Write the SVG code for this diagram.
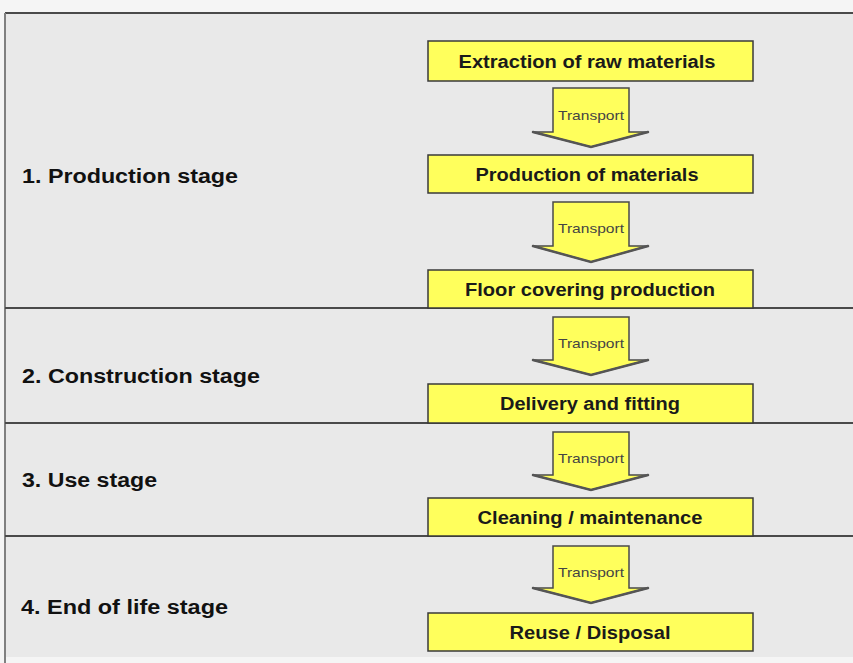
<svg xmlns="http://www.w3.org/2000/svg" width="853" height="663" viewBox="0 0 853 663">
<style>
.stage{font-family:"Liberation Sans",Arial,sans-serif;font-weight:bold;font-size:20px;fill:#111}
.box{fill:#ffff5c;stroke:#3a3a3a;stroke-width:1.5}
.bl{font-family:"Liberation Sans",Arial,sans-serif;font-weight:bold;font-size:18px;fill:#1a1a1a;text-anchor:middle}
.arr{fill:#ffff5c;stroke:#4a4a4a;stroke-width:1.5;stroke-linejoin:miter}
.head{fill:none;stroke:#555;stroke-width:2.5;stroke-linecap:round}
.tl{font-family:"Liberation Sans",Arial,sans-serif;font-size:13px;fill:#444;text-anchor:middle}
.div{stroke:#4a4a4a;stroke-width:2}
</style>
<rect x="0" y="0" width="853" height="663" fill="#f5f5f5"/>
<rect x="5" y="13" width="860" height="644" fill="#e9e9e9"/>
<line x1="5" y1="13" x2="853" y2="13" class="div"/>
<line x1="5" y1="13" x2="5" y2="663" stroke="#808080" stroke-width="2"/>
<line x1="5" y1="308" x2="853" y2="308" class="div"/>
<line x1="5" y1="423" x2="853" y2="423" class="div"/>
<line x1="5" y1="536" x2="853" y2="536" class="div"/>

<g id="stages">
<text class="stage" x="22" y="183" textLength="216" lengthAdjust="spacingAndGlyphs">1. Production stage</text>
<text class="stage" x="22" y="383" textLength="238" lengthAdjust="spacingAndGlyphs">2. Construction stage</text>
<text class="stage" x="22" y="487" textLength="135" lengthAdjust="spacingAndGlyphs">3. Use stage</text>
<text class="stage" x="21" y="614" textLength="207" lengthAdjust="spacingAndGlyphs">4. End of life stage</text>
</g>

<g id="n1"><rect class="box" x="428" y="41" width="325" height="40"/><text class="bl" x="587" y="68" textLength="257" lengthAdjust="spacingAndGlyphs">Extraction of raw materials</text></g>
<g id="n2"><rect class="box" x="428" y="155" width="325" height="38"/><text class="bl" x="587" y="181" textLength="223" lengthAdjust="spacingAndGlyphs">Production of materials</text></g>
<g id="n3"><rect class="box" x="428" y="270" width="325" height="38"/><text class="bl" x="590" y="296" textLength="250" lengthAdjust="spacingAndGlyphs">Floor covering production</text></g>
<g id="n4"><rect class="box" x="428" y="384" width="325" height="39"/><text class="bl" x="590" y="410" textLength="180" lengthAdjust="spacingAndGlyphs">Delivery and fitting</text></g>
<g id="n5"><rect class="box" x="428" y="498" width="325" height="38"/><text class="bl" x="590" y="524" textLength="225" lengthAdjust="spacingAndGlyphs">Cleaning / maintenance</text></g>
<g id="n6"><rect class="box" x="428" y="613" width="325" height="38"/><text class="bl" x="590" y="639" textLength="161" lengthAdjust="spacingAndGlyphs">Reuse / Disposal</text></g>

<g id="connectors">
<g><polygon class="arr" points="553,88 629,88 629,132 648,132 591,147 533,132 553,132"/><polyline class="head" points="533,132 591,147 648,132"/><text class="tl" x="591" y="120" textLength="66" lengthAdjust="spacingAndGlyphs">Transport</text></g>
<g><polygon class="arr" points="553,202 629,202 629,246 648,246 591,262 533,246 553,246"/><polyline class="head" points="533,246 591,262 648,246"/><text class="tl" x="591" y="233" textLength="66" lengthAdjust="spacingAndGlyphs">Transport</text></g>
<g><polygon class="arr" points="553,317 629,317 629,360 648,360 591,375 533,360 553,360"/><polyline class="head" points="533,360 591,375 648,360"/><text class="tl" x="591" y="348" textLength="66" lengthAdjust="spacingAndGlyphs">Transport</text></g>
<g><polygon class="arr" points="553,432 629,432 629,475 648,475 591,490 533,475 553,475"/><polyline class="head" points="533,475 591,490 648,475"/><text class="tl" x="591" y="463" textLength="66" lengthAdjust="spacingAndGlyphs">Transport</text></g>
<g><polygon class="arr" points="553,546 629,546 629,588 648,588 591,603 533,588 553,588"/><polyline class="head" points="533,588 591,603 648,588"/><text class="tl" x="591" y="577" textLength="66" lengthAdjust="spacingAndGlyphs">Transport</text></g>
</g>
</svg>
